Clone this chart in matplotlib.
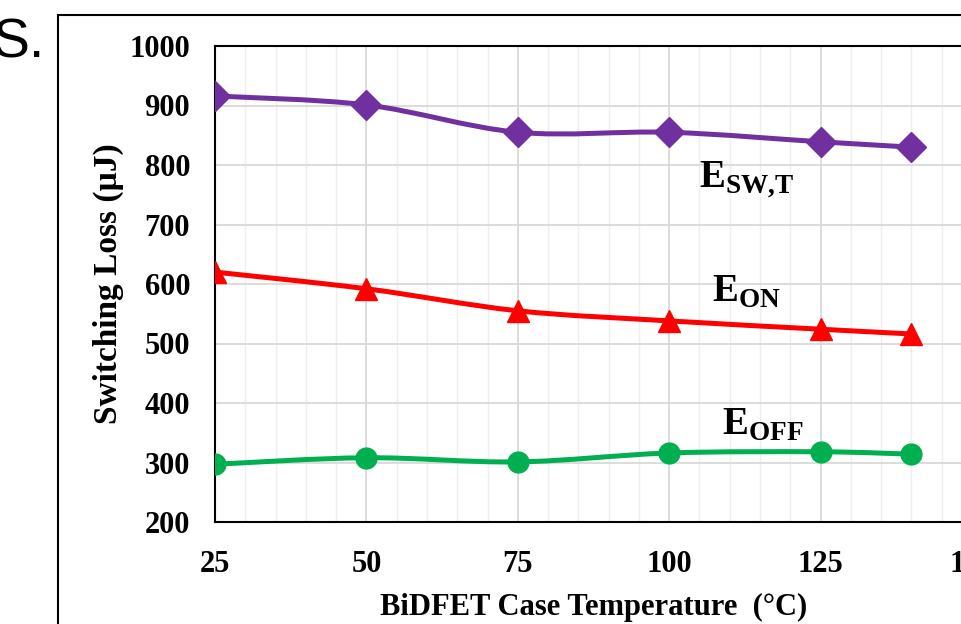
import numpy as np
import matplotlib.pyplot as plt
from matplotlib.path import Path
from matplotlib.patches import PathPatch, Rectangle

plt.rcParams['font.family'] = 'Liberation Serif'
plt.rcParams['font.weight'] = 'bold'
plt.rcParams['mathtext.fontset'] = 'custom'
plt.rcParams['mathtext.rm'] = 'Liberation Serif:bold'
plt.rcParams['mathtext.bf'] = 'Liberation Serif:bold'

temperature = [25, 50, 75, 100, 125, 140]
e_sw_total = [916, 901, 855, 855, 839, 830]
e_on = [620, 592, 555, 538, 524, 516]
e_off = [297, 308, 301, 316, 318, 314]

x_ticks = [25, 50, 75, 100, 125, 150]
y_ticks = [200, 300, 400, 500, 600, 700, 800, 900, 1000]


def smooth_path(xs, ys):
    # Catmull-Rom style bezier segments through the points (spreadsheet "smoothed line")
    pts = np.column_stack([xs, ys]).astype(float)
    padded = np.vstack([pts[0], pts, pts[-1]])
    verts = [pts[0]]
    codes = [Path.MOVETO]
    for i in range(len(pts) - 1):
        p0, p1, p2, p3 = padded[i], padded[i + 1], padded[i + 2], padded[i + 3]
        c1 = p1 + (p2 - p0) / 6
        c2 = p2 - (p3 - p1) / 6
        verts += [c1, c2, p2]
        codes += [Path.CURVE4] * 3
    return Path(verts, codes)


fig = plt.figure(figsize=(9.61, 6.24), dpi=100)

# slide frame and leftover heading text
fig.patches.append(Rectangle((58 / 961, -0.1), 1.2, 0.1 + 1 - 15 / 624, transform=fig.transFigure,
                             fill=False, edgecolor='black', linewidth=1.5))
fig.text(-0.008, 1 - 44 / 624, 'S.', family='Liberation Sans', fontweight='normal',
         fontsize=40, va='center', ha='left')

ax = fig.add_axes([215 / 961, 1 - 522 / 624, 757 / 961, 476 / 624])

series = [
    (e_sw_total, '#7030A0', 'D', 15),
    (e_on, '#FF0000', '^', 16),
    (e_off, '#00B050', 'o', 15),
]
for values, color, marker, size in series:
    ax.add_patch(PathPatch(smooth_path(temperature, values), facecolor='none',
                           edgecolor=color, linewidth=3.6, capstyle='round', zorder=3))
    ax.plot(temperature, values, linestyle='none', marker=marker, color=color,
            markersize=size, zorder=4)

ax.set_xlim(25, 150)
ax.set_ylim(200, 1000)
ax.set_xticks(x_ticks)
ax.set_xticks(np.arange(25, 151, 5), minor=True)
ax.set_yticks(y_ticks)
ax.tick_params(axis='both', which='both', length=0, labelsize=22)
ax.tick_params(axis='x', pad=20)
ax.tick_params(axis='y', pad=18)
ax.grid(True, which='major', color='#d9d9d9', linewidth=1.3)
ax.grid(True, which='minor', axis='x', color='#eeeeee', linewidth=1.0)
ax.set_axisbelow(True)
for spine in ax.spines.values():
    spine.set_linewidth(1.5)

ax.set_xlabel('BiDFET Case Temperature  (°C)', fontsize=22, fontweight='bold', labelpad=10)
ax.set_ylabel('Switching Loss (µJ)', fontsize=24, fontweight='bold', labelpad=4)

ax.text(112.8, 775, r'$\mathbf{E}_{\mathbf{SW{,}T}}$', fontsize=28, ha='center', va='center')
ax.text(112.8, 587, r'$\mathbf{E}_{\mathbf{ON}}$', fontsize=28, ha='center', va='center')
ax.text(115.4, 363, r'$\mathbf{E}_{\mathbf{OFF}}$', fontsize=28, ha='center', va='center')

fig.savefig('out.png', dpi=100)
